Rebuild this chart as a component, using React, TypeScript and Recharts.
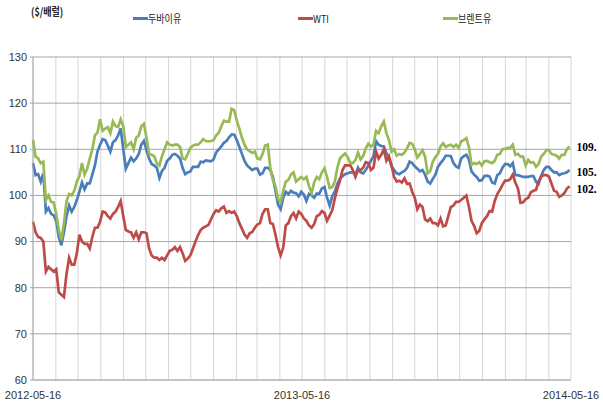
import React from 'react';
import { LineChart, Line, XAxis, YAxis, CartesianGrid } from 'recharts';

const seriesNames = ['두바이유', 'WTI', '브렌트유'];
const seriesKeys = ['dubai', 'wti', 'brent'];
const seriesColors = ['#4A7EBB', '#BE4B48', '#98B954'];
const unitLabel = '($/배럴)';
const endLabels = ['105.', '102.', '109.'];
const yTicks = [60, 70, 80, 90, 100, 110, 120, 130];
const monthTicks = [
  '2012-05-16', '2012-06-16', '2012-07-16', '2012-08-16', '2012-09-16', '2012-10-16',
  '2012-11-16', '2012-12-16', '2013-01-16', '2013-02-16', '2013-03-16', '2013-04-16',
  '2013-05-16', '2013-06-16', '2013-07-16', '2013-08-16', '2013-09-16', '2013-10-16',
  '2013-11-16', '2013-12-16', '2014-01-16', '2014-02-16', '2014-03-16', '2014-04-16',
  '2014-05-16',
];
const labeledTicks = ['2012-05-16', '2013-05-16', '2014-05-16'];

// readings twice a week, starting 2012-05-16
const dubai = [
  107, 104.4, 104.6, 103, 104.8, 96.5, 97.3, 96, 95.7, 94.5,
  91, 89.2, 92, 95.5, 97.8, 96.5, 97.5, 99, 100.8, 102.8,
  101.3, 102.6, 102.6, 104.5, 106.5, 109.5, 111, 112.2, 112, 110.8,
  109.5, 111.5, 112, 113, 114.5, 110, 105.8, 107, 108.2, 107.4,
  108, 109, 111, 111.8, 109.8, 108, 106.8, 106.5, 106, 103.8,
  105.3, 106, 107.5, 108, 108.8, 109, 108.6, 108, 106, 104.6,
  105, 105.2, 106.2, 106.2, 106.2, 107.3, 107.2, 107.6, 107.5, 107.4,
  107.8, 109.3, 110, 110.6, 111.4, 111.8, 112.6, 113.2, 113.2, 112,
  110.5, 109, 107.5, 106.5, 106, 105.5, 105.8, 105.8, 104.5, 104.8,
  106, 106, 105.5, 104, 101, 98, 97, 99.5, 100.8, 100.3,
  101, 100.6, 100.5, 99.8, 100.8, 100.2, 98.8, 100.3, 100, 99.5,
  100.4, 100.4, 101.5, 101.8, 99.5, 97.8, 99.8, 100.8, 102.5, 103.6,
  104.2, 104.6, 104.8, 105, 105, 104.5, 106, 105, 104.8, 105.5,
  106.5, 107.5, 108.5, 111.8, 111, 110.7, 110.6, 109.2, 108, 106.3,
  105.5, 104.8, 104.6, 105, 105.3, 106, 107.3, 107, 106.3, 105.8,
  105.2, 105.5, 104.5, 103, 102.6, 103.6, 104.5, 106.2, 107, 107.7,
  108.6, 108.6, 108.5, 107, 106.3, 106, 108, 108.5, 108.8, 107.8,
  105.2, 104.5, 104, 103.2, 103.3, 104.2, 104.3, 104.1, 102.8, 102.6,
  104.4, 104.8, 106, 106.8, 106.8, 106.3, 107, 104.4, 104.4, 104.2,
  104, 104, 104, 104.2, 104.2, 103, 102.5, 104.2, 105.5, 106.2,
  106.2, 105.5, 105, 105, 104.4, 104.7, 104.8, 105, 105.5,
];
const wti = [
  94.3, 92, 91, 90.8, 90, 83.5, 84.5, 84, 83.5, 84,
  79, 78.5, 78, 83, 86.5, 85, 85, 87.5, 91.5, 90,
  89.5, 89.5, 88.5, 91, 93, 93, 94.3, 96.5, 96.3, 95.5,
  95, 96, 96.5, 97.5, 98.8, 95.5, 92.5, 92.2, 92, 90.8,
  92, 90.5, 92, 92, 91.8, 88.5, 87, 86.5, 86.5, 86,
  86.5, 86, 87, 88, 88.2, 88.8, 88, 88.8, 87.5, 85.8,
  86.3, 87, 88.5, 90, 91.4, 92.5, 93, 93.3, 93.6, 94.8,
  96, 96.8, 96.5, 97.2, 97.6, 96.2, 96.6, 96.2, 96.5, 95.5,
  94, 92.8, 91.5, 90.8, 91.8, 92.1, 93, 93.7, 94, 96,
  97, 97, 94, 93.8, 91.5, 88.8, 87, 88.7, 93.5, 94,
  95.5, 96.2, 95, 96.5, 96, 95, 94.5, 93.5, 93, 93.8,
  95.5, 95.8, 96.6, 96.2, 94.5, 95.6, 96.8, 99.3, 101.5, 103.2,
  105.5, 106.5, 106.5, 106.5, 105.5, 104, 105.5, 105.5, 106, 107.2,
  107, 105.5, 106, 109.5, 108, 108.8, 110, 107.5, 108.5, 106.5,
  104, 103, 103.2, 102.8, 103.7, 102.5, 102.6, 100.8, 99.5, 97,
  98, 97.5, 94.8, 94.4, 95, 94, 94, 93.5, 95, 93.3,
  93.5, 95.5, 97.5, 97.8, 98.6, 98.6, 99, 99.5, 100, 97.5,
  94.5, 93.4, 91.8, 92.3, 94, 94.8, 95.5, 96.6, 96.5, 98.8,
  100.3, 101.2, 102.3, 103.2, 103.2, 103.5, 104.5, 102.8, 101.5, 98.4,
  98.5, 99.2, 99.5, 100.7, 101, 101.2, 103, 104.1, 104.4, 104.4,
  104.1, 102.6, 101, 100.8, 99.7, 100, 100.5, 101.5, 102,
];
const brent = [
  112, 108.4, 108, 107, 107.3, 99, 100, 98.6, 98.5, 96,
  92.5, 90.3, 94, 98.8, 100.3, 100, 101, 103, 104.2, 107,
  104.5, 105.8, 108, 110, 113, 113.6, 116.5, 114, 114.5, 114.8,
  113.5, 116, 115, 114.8, 116.5, 115, 110.5, 111, 111.5, 110,
  112.5, 113, 115, 115.5, 112.5, 109, 108.8, 108.5, 107, 106.5,
  108.5, 110, 111.5, 111, 110.8, 111, 111, 110.5, 108, 107.8,
  109, 110.3, 110.8, 111, 111, 111.5, 112.2, 111.8, 111.7, 111.8,
  112, 113, 113.6, 115, 116.2, 116, 116, 118.8, 118.5, 116.2,
  114.5, 112.5, 111, 110, 109.6, 109.2, 109.5, 108, 107.8, 109,
  110.8, 111, 106, 103.3, 102, 99.3, 98.5, 101, 103, 103.4,
  104.5, 105, 103, 103.5, 104, 103.5, 104, 102, 100.5, 102.8,
  104, 103.5, 105, 105.9, 104, 101.6, 101.8, 103, 106, 108,
  108.6, 109.1, 108.3, 107, 107, 107.7, 109.3, 107.8, 108.5, 110.2,
  111.2, 110.6, 111, 114, 113.5, 115, 116, 113.5, 112, 109.5,
  110, 108.6, 109, 108.8, 109.3, 110.2, 111.4, 111.2, 110, 108.2,
  109, 109.8, 108.4, 104.8, 105.3, 107.3, 108.3, 109, 110.6, 111.3,
  110.5, 110.8, 111, 110.5, 111, 110.3, 111.7, 112, 112.4, 110.5,
  106.6, 107, 106.8, 107.2, 106.5, 107.4, 107.5, 107.2, 107, 107.5,
  108.8, 109, 110, 110.1, 110.3, 110.3, 111, 108.8, 109, 108.4,
  108.4, 106.5, 107.7, 107.1, 107.2, 106.2, 106.8, 108.4, 109, 109.8,
  109.8, 109, 108.8, 108.6, 108, 108.8, 108.8, 110, 110.6,
];

const START = Date.UTC(2012, 4, 16);
const dayOf = (s: string) => {
  const [y, m, d] = s.split('-').map(Number);
  return Math.round((Date.UTC(y, m - 1, d) - START) / 86400000);
};
const tickDays = monthTicks.map(dayOf);
const labeledDays = new Set(labeledTicks.map(dayOf));
const dayToLabel = new Map(monthTicks.map((t) => [dayOf(t), t]));

const data = dubai.map((v, i) => ({ day: i * 3.5, dubai: v, wti: wti[i], brent: brent[i] }));
const lastIndex = data.length - 1;

const labelDy = [6, 7, 4];
const legendX = [133, 298, 443];

const narrow = "'Liberation Sans Narrow', 'Arial Narrow', 'Liberation Sans', Arial, sans-serif";

const makeEndLabel = (text: string, dy: number) => (props: any) => {
  if (props.index !== lastIndex) return null;
  return (
    <text
      x={props.x + 7}
      y={props.y + dy}
      fontFamily="'Liberation Serif', 'Times New Roman', serif"
      fontWeight="bold"
      fontSize={11.5}
      fill="#000"
    >
      {text}
    </text>
  );
};

export default function App() {
  return (
    <div style={{ position: 'absolute', left: 0, top: 0, width: 603, height: 406, background: '#fff' }}>
      <LineChart width={603} height={406} data={data} margin={{ top: 57, right: 32, bottom: 0, left: 0 }}>
        <CartesianGrid vertical horizontal={false} stroke="#d6d6d6" />
        <CartesianGrid vertical={false} horizontal stroke="#a6a6a6" />
        <XAxis
          type="number"
          dataKey="day"
          domain={[0, 730]}
          ticks={tickDays}
          interval={0}
          height={26}
          tickLine={false}
          axisLine={{ stroke: '#b5b5b5' }}
          tickSize={6}
          tickMargin={5}
          tick={{ fontSize: 11, fill: '#333', fontFamily: narrow }}
          tickFormatter={(v: number) => (labeledDays.has(v) ? (dayToLabel.get(v) as string) : '')}
        />
        <YAxis
          type="number"
          domain={[60, 130]}
          ticks={yTicks}
          interval={0}
          width={33}
          axisLine={{ stroke: '#a6a6a6' }}
          tickLine={{ stroke: '#a6a6a6' }}
          tickSize={3}
          tickMargin={3}
          tick={{ fontSize: 11, fill: '#333', fontFamily: narrow }}
        />
        {seriesKeys.map((k, i) => (
          <Line
            key={k}
            type="linear"
            dataKey={k}
            name={seriesNames[i]}
            stroke={seriesColors[i]}
            strokeWidth={2.7}
            dot={false}
            activeDot={false}
            isAnimationActive={false}
            label={makeEndLabel(endLabels[i], labelDy[i])}
          />
        ))}
      </LineChart>
      <div
        style={{
          position: 'absolute',
          left: 31,
          top: 4,
          fontFamily: "'Noto Sans CJK KR', sans-serif",
          fontSize: 11,
          fontWeight: 'bold',
          color: '#222',
          transform: 'scaleX(0.82)',
          transformOrigin: 'left top',
          whiteSpace: 'nowrap',
          lineHeight: '14px',
        }}
      >
        {unitLabel}
      </div>
      {seriesNames.map((n, i) => (
        <div key={n} style={{ position: 'absolute', left: legendX[i], top: 11, height: 14, whiteSpace: 'nowrap' }}>
          <div style={{ position: 'absolute', left: 0, top: 6, width: 15, height: 3, background: seriesColors[i] }} />
          <div
            style={{
              position: 'absolute',
              left: 15,
              top: 0,
              fontFamily: "'Noto Sans CJK KR', sans-serif",
              fontSize: 11,
              color: '#222',
              lineHeight: '14px',
              transform: 'scaleX(0.82)',
              transformOrigin: 'left top',
            }}
          >
            {n}
          </div>
        </div>
      ))}
    </div>
  );
}
